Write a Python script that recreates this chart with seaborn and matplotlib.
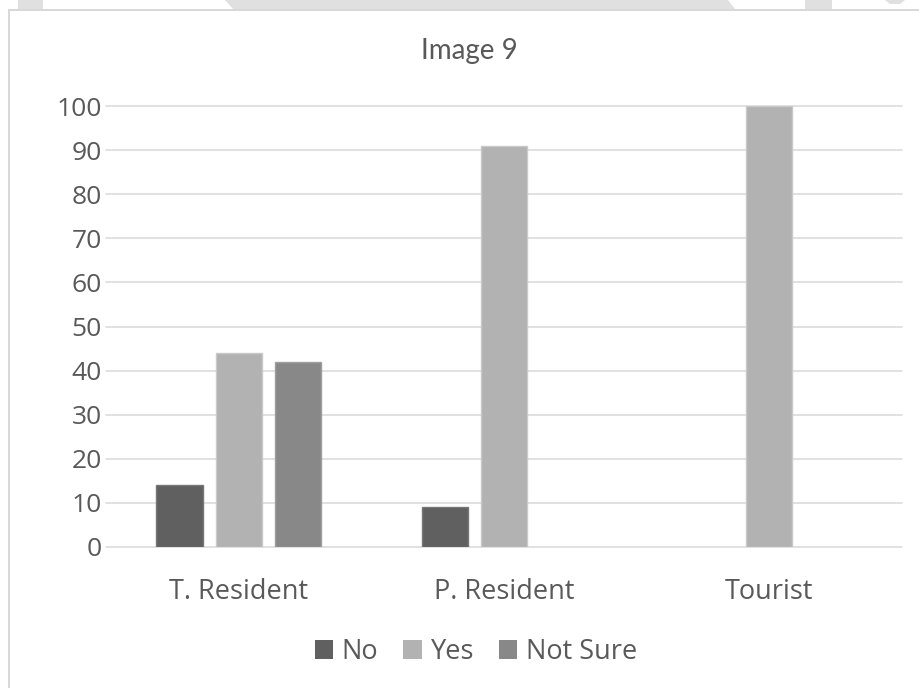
import matplotlib
matplotlib.use("Agg")
import matplotlib.pyplot as plt
from matplotlib.lines import Line2D
from matplotlib.patches import Polygon, Patch
import matplotlib.colors as mcolors
import pandas as pd
import seaborn as sns

# Survey responses by respondent type (percent)
categories = ["T. Resident", "P. Resident", "Tourist"]
answers = ["No", "Yes", "Not Sure"]
no_values = [14, 9, 0]
yes_values = [44, 91, 100]
not_sure_values = [42, 0, 0]
y_ticks = [0, 10, 20, 30, 40, 50, 60, 70, 80, 90, 100]
title = "Image 9"

colors = {"No": "#606060", "Yes": "#b2b2b2", "Not Sure": "#888888"}
text_color = "#595959"
grid_color = "#d9d9d9"

df = pd.DataFrame({
    "group": categories * 3,
    "answer": [a for a in answers for _ in categories],
    "value": no_values + yes_values + not_sure_values,
})

sns.set_theme(style="white")
plt.rcParams["font.family"] = ["Open Sans", "DejaVu Sans"]

W, H = 919, 688
fig = plt.figure(figsize=(W / 100, H / 100), dpi=100)
fig.patch.set_facecolor("white")

def fx(px):
    return px / W

def fy(py):
    return 1 - py / H

# faint background marks above the chart frame
for pts in [
    [(18, 0), (43, 0), (43, 9), (18, 9)],
    [(225, 0), (728, 0), (735, 9), (233, 9)],
    [(805, 0), (832, 0), (832, 9), (805, 9)],
    [(885, 0), (905, 0), (900, 4), (890, 4)],
]:
    fig.add_artist(Polygon([(fx(x), fy(y)) for x, y in pts], closed=True,
                           transform=fig.transFigure, facecolor="#e0e0e0",
                           edgecolor="none"))

# chart frame (left and top edges)
fig.add_artist(Line2D([fx(8.5), fx(8.5)], [fy(9.5), 0], transform=fig.transFigure,
                      color="#d4d4d4", lw=1.3))
fig.add_artist(Line2D([fx(8.5), 1], [fy(9.5), fy(9.5)], transform=fig.transFigure,
                      color="#d4d4d4", lw=1.3))

ax = fig.add_axes([fx(106), fy(547), fx(902) - fx(106), (547 - 106) / H])

sns.barplot(data=df, x="group", y="value", hue="answer", order=categories,
            hue_order=answers, palette=colors, width=0.67, gap=0.22,
            saturation=1, ax=ax, legend=False, errorbar=None)

for p in ax.patches:
    h = p.get_height()
    if h == 0:
        p.set_linewidth(0)
        p.set_visible(False)
    else:
        fc = mcolors.to_rgb(p.get_facecolor())
        ec = tuple(min(1, c + 0.09) for c in fc)
        p.set_edgecolor(ec)
        p.set_linewidth(1.0)

ax.set_ylim(0, 100)
ax.set_yticks(y_ticks)
ax.set_xlim(-0.5, len(categories) - 0.5)
ax.set_xlabel("")
ax.set_ylabel("")
for s in ax.spines.values():
    s.set_visible(False)
ax.set_axisbelow(True)
ax.yaxis.grid(True, color=grid_color, lw=1.1)
ax.xaxis.grid(False)
for gl in ax.get_ygridlines():
    gl.set_clip_on(False)
ax.tick_params(axis="y", length=0, pad=3, labelsize=19, labelcolor=text_color)
ax.tick_params(axis="x", length=0, pad=22, labelsize=19.5, labelcolor=text_color)
ax.set_facecolor("white")

fig.text(fx(469), fy(51), title, ha="center", va="center", fontsize=20,
         color=text_color, family=["Lato", "DejaVu Sans"])

handles = [Patch(facecolor=colors[a], edgecolor="none", label=a) for a in answers]
leg = fig.legend(handles=handles, loc="center", bbox_to_anchor=(fx(476), fy(652)),
                 ncol=3, frameon=False, fontsize=19.5, handlelength=0.67,
                 handleheight=0.67, handletextpad=0.33, columnspacing=0.93)
for t in leg.get_texts():
    t.set_color(text_color)

fig.savefig("out.png", dpi=100, facecolor="white")
